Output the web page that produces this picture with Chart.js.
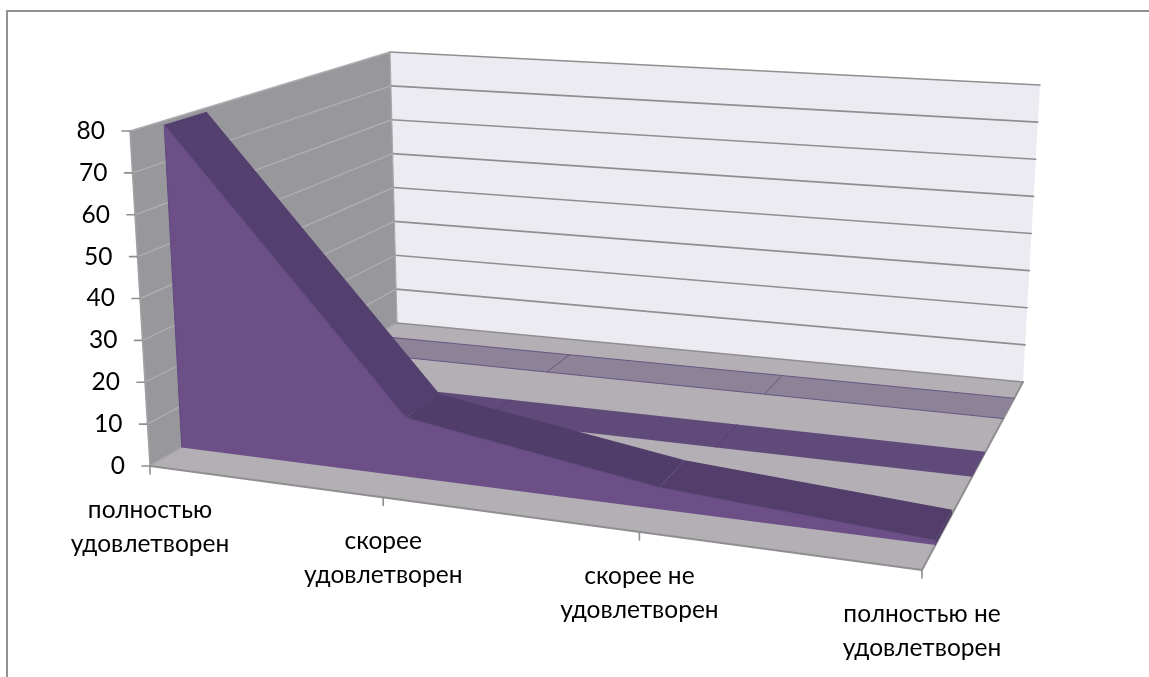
<!DOCTYPE html>
<html><head><meta charset="utf-8">
<script src="https://cdn.jsdelivr.net/npm/chart.js@4"></script>
<style>
html,body{margin:0;padding:0;background:#fff;overflow:hidden}
#frame{position:absolute;left:6px;top:10px;width:1143px;height:667px;border-left:2px solid #909090;border-top:2px solid #909090;box-sizing:border-box}
canvas{position:absolute;left:0;top:0}
</style></head><body>
<div id="frame"></div>
<canvas id="c" width="1149" height="677"></canvas>
<script>
// ---- data ----
const categories = [['полностью','удовлетворен'],['скорее','удовлетворен'],['скорее не','удовлетворен'],['полностью не','удовлетворен']];
const valueTicks = [0,10,20,30,40,50,60,70,80];
const seriesFront = [79,14,5,1];
const seriesMiddle = [0,0,0,0];
const seriesBack = [0,0,0,0];

// ---- 3D box seen in perspective ----
const floorQuad = [[150,466],[922,570],[1023,382],[397,323]];
const roofQuad  = [[130,131],[939,200],[1040,85],[390,52]];
const bandFront = [0.105,0.245], bandMiddle = [0.43,0.565], bandBack = [0.76,0.89];
const valueMax = 80, lastCat = categories.length-1;
const C_LEFT=150, C_UNIT=(922-150)/3, V_BASE=466, V_UNIT=335/80;

function homography(q){
  const [[x0,y0],[x1,y1],[x2,y2],[x3,y3]]=q;
  const sx=x0-x1+x2-x3, sy=y0-y1+y2-y3, dx1=x1-x2, dx2=x3-x2, dy1=y1-y2, dy2=y3-y2;
  const den=dx1*dy2-dx2*dy1, g=(sx*dy2-dx2*sy)/den, h=(dx1*sy-sx*dy1)/den;
  const a=x1-x0+g*x1,b=x3-x0+h*x3,d=y1-y0+g*y1,e=y3-y0+h*y3;
  return (u,v)=>{const w=g*u+h*v+1;return [(a*u+b*v+x0)/w,(d*u+e*v+y0)/w];};
}
const floorH=homography(floorQuad), roofH=homography(roofQuad);
function px3(cat,val,depth){
  let u=cat/lastCat; u=u+0.028*u*(1-u)*(1-depth);
  const b=floorH(u,depth), t=roofH(u,depth), k=val/valueMax;
  return [b[0]+(t[0]-b[0])*k, b[1]+(t[1]-b[1])*k];
}
// pixel position -> chart scale units
const toScale=p=>({x:(p[0]-C_LEFT)/C_UNIT, y:(V_BASE-p[1])/V_UNIT});
const pt=(c,v,d)=>toScale(px3(c,v,d));

const ds=[];
function poly(points,fill,line,lw){ds.push({data:points,showLine:true,fill:fill?'shape':false,backgroundColor:fill||'transparent',borderColor:line||'transparent',borderWidth:line?(lw||1):0,pointRadius:0,tension:0});}
function seg(points,color,lw){poly(points,null,color,lw);}

// walls and floor
poly([pt(0,0,0),pt(0,80,0),pt(0,80,1),pt(0,0,1)],'#98979c');
poly([pt(0,0,1),pt(0,80,1),pt(lastCat,80,1),pt(lastCat,0,1)],'#ecebf2');
poly([pt(0,0,0),pt(lastCat,0,0),pt(lastCat,0,1),pt(0,0,1)],'#b3afb5');
valueTicks.forEach(v=>{
  if(v>0){seg([pt(0,v,0),pt(0,v,1)],'#aeaeb1',1.4);seg([pt(0,v,1),pt(lastCat,v,1)],'#8f8f90',1.6);}
});
seg([pt(0,0,0),pt(0,80,0)],'#a2a2a4',1.5);
seg([pt(0,0,0),pt(0,0,1)],'#a9a8ac',1.5);
seg([pt(0,0,1),pt(0,80,1)],'#a8a8aa',1.2);
seg([pt(0,0,1),pt(lastCat,0,1)],'#8f8f90',1.5);
seg([pt(lastCat,0,0),pt(lastCat,0,1)],'#8f8f90',2);
seg([pt(0,0,0),pt(lastCat,0,0)],'#8f8f90',2.2);
// axis ticks
valueTicks.forEach(v=>{const p=px3(0,v,0);seg([toScale(p),toScale([p[0]-8,p[1]])],'#8f8f90',1.6);});
categories.forEach((_,i)=>{const p=px3(i,0,0);seg([toScale(p),toScale([p[0],p[1]+8])],'#8f8f90',1.6);});

// flat ribbon of a series: top surface only shows
function ribbon(vals,band,fill,line,divider){
  const back=vals.map((v,i)=>pt(i,v,band[1])), front=vals.map((v,i)=>pt(i,v,band[0]));
  poly(front.concat(back.slice().reverse()),fill);
  for(let i=1;i<lastCat;i++) seg([front[i],back[i]],divider,1);
  if(line){seg(back,line,1);seg(front,line,1);}
}
ribbon(seriesBack,bandBack,'#8c8399','#685682','#685682');
ribbon(seriesMiddle,bandMiddle,'#5f4a7a',null,'#54406f');

// front series: top surfaces, end cap, front face
const segColors=['#54406f','#503d69','#533e6b'];
poly([pt(lastCat,0,bandFront[0]),pt(lastCat,seriesFront[lastCat],bandFront[0]),pt(lastCat,seriesFront[lastCat],bandFront[1]),pt(lastCat,0,bandFront[1])],'#4a3864');
seriesFront.slice(0,-1).forEach((v,i)=>{
  const n=seriesFront[i+1];
  poly([pt(i,v,bandFront[0]),pt(i+1,n,bandFront[0]),pt(i+1,n,bandFront[1]),pt(i,v,bandFront[1])],segColors[i]);
});
poly([pt(0,0,bandFront[0]),...seriesFront.map((v,i)=>pt(i,v,bandFront[0])),pt(lastCat,0,bandFront[0])],'#6b4f86','#614a80',1);

ds.forEach((d,i)=>{d.order=ds.length-i;});

const labelsPlugin={id:'labels3d',afterDraw(chart){
  const x=chart.scales.x,y=chart.scales.y,ctx=chart.ctx;
  ctx.save();ctx.fillStyle='#000';ctx.font='24.5px Lato, "Noto Sans", sans-serif';ctx.textBaseline='middle';
  ctx.textAlign='right';
  valueTicks.forEach(v=>{const p=pt(0,v,0);ctx.fillText(String(v),x.getPixelForValue(p.x)-25,y.getPixelForValue(p.y));});
  ctx.textAlign='center';
  categories.forEach((lines,i)=>{const p=pt(i,0,0),px=x.getPixelForValue(p.x),py=y.getPixelForValue(p.y);
    lines.forEach((t,j)=>ctx.fillText(t,px,py+44+j*34));});
  ctx.restore();
}};

new Chart(document.getElementById('c'),{
  type:'scatter',
  data:{datasets:ds},
  plugins:[labelsPlugin],
  options:{responsive:false,animation:false,parsing:false,normalized:false,
    layout:{padding:0},
    plugins:{legend:{display:false},tooltip:{enabled:false},title:{display:false}},
    elements:{line:{borderCapStyle:'round',borderJoinStyle:'round'}},
    scales:{
      x:{type:'linear',display:false,min:(0-C_LEFT)/C_UNIT,max:(1149-C_LEFT)/C_UNIT},
      y:{type:'linear',display:false,min:(V_BASE-677)/V_UNIT,max:V_BASE/V_UNIT}
    }}
});
</script>
</body></html>
